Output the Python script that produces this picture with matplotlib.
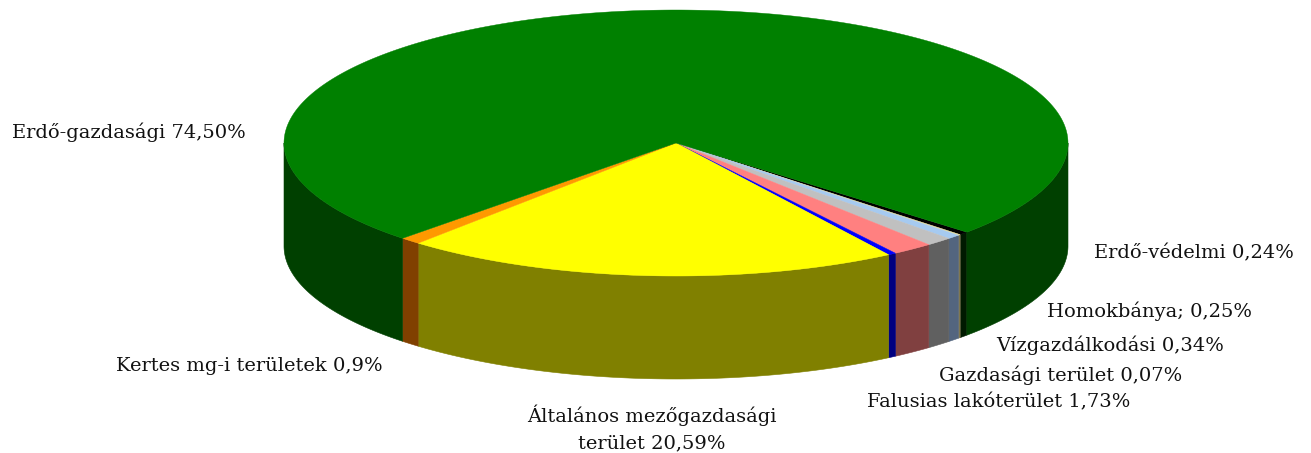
import numpy as np
import matplotlib
matplotlib.use("Agg")
import matplotlib.pyplot as plt
from matplotlib.patches import Polygon

# slices in drawing order, clockwise on screen starting at the black one
slice_names = ["Erdő-védelmi", "Gazdasági", "Homokbánya", "Vízgazdálkodási",
               "Falusias", "Blue", "Általános", "Kertes", "Erdő-gazdasági"]
slice_values = [0.40, 0.10, 0.55, 1.10, 1.70, 0.33, 20.55, 0.86, 74.41]
top_colors = ["#000000", "#E8E0A0", "#A6CAF0", "#C0C0C0", "#FF8080",
              "#0000FF", "#FFFF00", "#FF9900", "#008000"]
side_colors = ["#001A00", "#807850", "#53657F", "#606060", "#804040",
               "#000080", "#808000", "#804000", "#004000"]

labels = ["Erdő-gazdasági 74,50%", "Erdő-védelmi 0,24%", "Homokbánya; 0,25%",
          "Vízgazdálkodási 0,34%", "Gazdasági terület 0,07%",
          "Falusias lakóterület 1,73%", "Kertes mg-i területek 0,9%",
          "Általános mezőgazdasági\nterület 20,59%"]
label_x = [12, 1094, 1047, 996, 939, 867, 116, 652]
label_y = [132, 253, 311, 345, 375, 402, 366, 428]
label_ha = ["left"] * 7 + ["center"]

cx, cy, rx, ry, depth = 676, 143, 392, 133, 103
start = 42.1


def rim(t):
    t = np.radians(t)
    return cx + rx * np.cos(t), cy + ry * np.sin(t)


fig = plt.figure(figsize=(13.11, 4.53), dpi=100)
ax = fig.add_axes([0, 0, 1, 1])
ax.set_xlim(0, 1311)
ax.set_ylim(453, 0)
ax.axis("off")

shares = np.array(slice_values) / sum(slice_values) * 360
edges = start + np.concatenate([[0], np.cumsum(shares)])

# walls first, only the part facing the viewer (0..180 on the rim)
for a, b, col in zip(edges[:-1], edges[1:], side_colors):
    parts = [(a, min(b, 180))] if a < 180 else []
    if b > 360:
        parts.append((360, b))
    for p, q in parts:
        if q <= p:
            continue
        t = np.linspace(p, q, max(int(q - p) * 3, 4))
        x, y = rim(t)
        pts = np.r_[np.c_[x, y], np.c_[x, y + depth][::-1]]
        ax.add_patch(Polygon(pts, closed=True, fc=col, ec=col, lw=0.4, zorder=2))

# top face
for a, b, col in zip(edges[:-1], edges[1:], top_colors):
    t = np.linspace(a, b, max(int(b - a) * 3, 4))
    x, y = rim(t)
    pts = np.r_[[[cx, cy]], np.c_[x, y]]
    ax.add_patch(Polygon(pts, closed=True, fc=col, ec=col, lw=0.3, zorder=3))

for txt, x, y, ha in zip(labels, label_x, label_y, label_ha):
    ax.text(x, y, txt, ha=ha, va="center", fontsize=14, family="DejaVu Serif",
            color="#111111", linespacing=1.6, zorder=5)

fig.savefig("out.png", dpi=100, facecolor="white")
